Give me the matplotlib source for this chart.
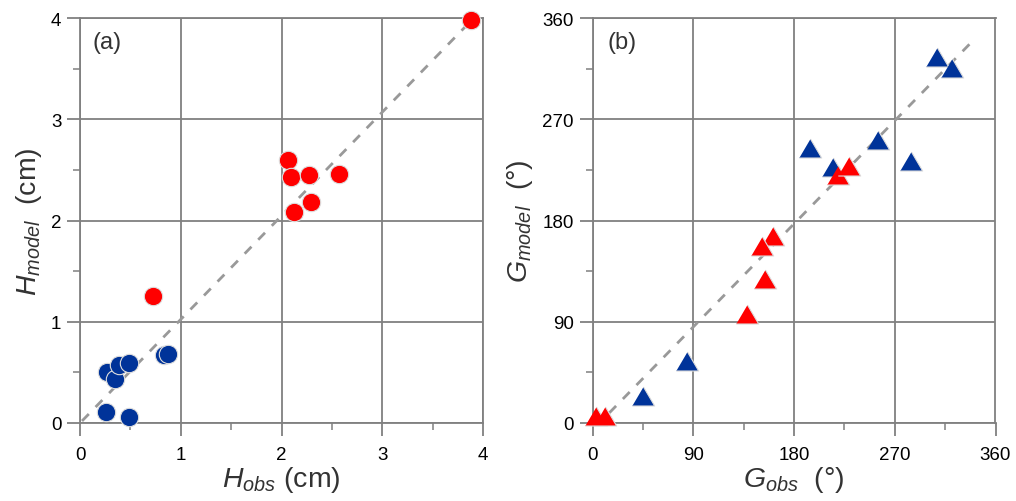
import numpy as np
import matplotlib
matplotlib.use("Agg")
import matplotlib.pyplot as plt
from matplotlib.ticker import MultipleLocator

plt.rcParams['font.family'] = ['Liberation Sans', 'DejaVu Sans']
plt.rcParams['mathtext.fontset'] = 'custom'
plt.rcParams['mathtext.rm'] = 'Liberation Sans'
plt.rcParams['mathtext.it'] = 'Liberation Sans:italic'

# panel (a): wave height, circles
h_red_obs = [3.88, 2.06, 2.09, 2.27, 2.57, 2.29, 2.12, 0.72]
h_red_mod = [3.98, 2.60, 2.43, 2.45, 2.46, 2.18, 2.08, 1.25]
h_blue_obs = [0.265, 0.347, 0.39, 0.486, 0.83, 0.87, 0.255, 0.486]
h_blue_mod = [0.50, 0.43, 0.57, 0.59, 0.67, 0.68, 0.105, 0.056]
h_fit_x = [0.02, 3.85]
h_fit_y = [0.02, 3.94]

# panel (b): phase, triangles
g_blue_obs = [307.5, 321.4, 194.3, 215.1, 255.3, 284.2, 84.1, 44.8]
g_blue_mod = [325.0, 315.6, 244.4, 227.3, 251.8, 232.6, 54.8, 24.3]
g_red_obs = [219.0, 229.1, 161.5, 151.1, 154.1, 138.3, 2.9, 11.2]
g_red_mod = [220.4, 228.2, 166.5, 157.0, 128.0, 96.9, 6.5, 5.9]
g_fit_x = [15, 340]
g_fit_y = [9, 340]

RED = '#ff0000'
BLUE = '#003399'
GRID = '#808080'
TXT = '#333333'

fig = plt.figure(figsize=(10.16, 5.02), dpi=100)
ax1 = fig.add_axes([80 / 1016, 78 / 502, 403 / 1016, 405 / 502])
ax2 = fig.add_axes([592.5 / 1016, 78 / 502, 403 / 1016, 405 / 502])

tri = [(-1, -0.85), (1, -0.85), (0, 0.85)]


def style(ax, lim, major, minor):
    ax.set_xlim(0, lim)
    ax.set_ylim(0, lim)
    ax.xaxis.set_major_locator(MultipleLocator(major))
    ax.yaxis.set_major_locator(MultipleLocator(major))
    ax.xaxis.set_minor_locator(MultipleLocator(minor))
    ax.yaxis.set_minor_locator(MultipleLocator(minor))
    ax.grid(True, which='major', color=GRID, lw=1.3)
    ax.set_axisbelow(True)
    for s in ax.spines.values():
        s.set_color(GRID)
        s.set_linewidth(1.3)
    ax.tick_params(which='major', direction='out', length=9.5, width=1.3,
                   color=GRID, labelsize=13.5, pad=4)
    ax.tick_params(axis='x', which='major', pad=7)
    ax.tick_params(which='minor', direction='out', length=5, width=1.1,
                   color=GRID)


style(ax1, 4, 1, 0.5)
ax1.plot(h_fit_x, h_fit_y, ls=(0, (3.5, 3.5)), color='#999999', lw=2, zorder=2)
ax1.scatter(h_red_obs, h_red_mod, s=175, c=RED, edgecolors='#dddddd',
            linewidths=0.8, zorder=3, clip_on=False)
ax1.scatter(h_blue_obs, h_blue_mod, s=175, c=BLUE, edgecolors='#dddddd',
            linewidths=0.8, zorder=3, clip_on=False)
ax1.set_xlabel(r'$H_{obs}$ (cm)', fontsize=20.5, color=TXT, labelpad=1)
ax1.set_ylabel(r'$H_{model}$  (cm)', fontsize=20.5, color=TXT, labelpad=5)
ax1.text(0.032, 0.94, '(a)', transform=ax1.transAxes, fontsize=17,
         color=TXT, va='center')

style(ax2, 360, 90, 45)
ax2.plot(g_fit_x, g_fit_y, ls=(0, (3.5, 3.5)), color='#999999', lw=2, zorder=2)
ax2.scatter(g_blue_obs, g_blue_mod, s=260, c=BLUE, marker=tri,
            edgecolors='#dddddd', linewidths=0.8, zorder=3, clip_on=False)
ax2.scatter(g_red_obs, g_red_mod, s=260, c=RED, marker=tri,
            edgecolors='#dddddd', linewidths=0.8, zorder=3, clip_on=False)
ax2.set_xlabel(r'$G_{obs}$  (°)', fontsize=20.5, color=TXT, labelpad=1)
ax2.set_ylabel(r'$G_{model}$  (°)', fontsize=20.5, color=TXT, labelpad=5)
ax2.text(0.036, 0.94, '(b)', transform=ax2.transAxes, fontsize=17,
         color=TXT, va='center')

fig.savefig('out.png', dpi=100)
